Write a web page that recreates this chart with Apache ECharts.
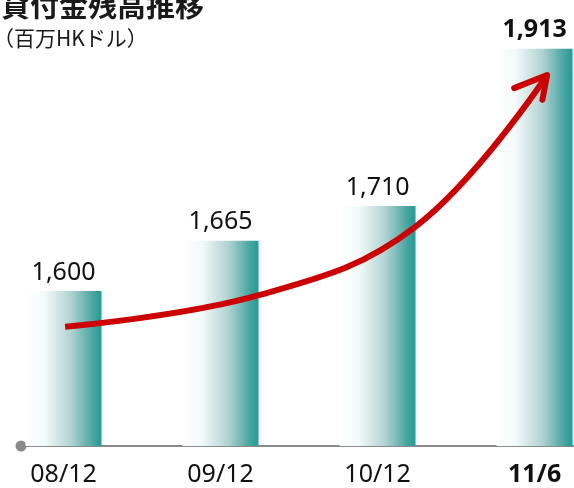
<!DOCTYPE html>
<html>
<head>
<meta charset="utf-8">
<script src="https://cdn.jsdelivr.net/npm/echarts@6/dist/echarts.min.js"></script>
<style>
  html, body { margin: 0; padding: 0; background: #fff; }
  #chart { width: 574px; height: 488px; }
</style>
</head>
<body>
<div id="chart"></div>
<script>
// loan balance, million HKD
const categories = ['08/12', '09/12', '10/12', '11/6'];
const balances = [1600, 1665, 1710, 1913];

// red trend arrow (x = category index, y = value units)
const arrowX = [0.01, 1.25, 2.24, 3.08];
const arrowY = [1554, 1595, 1683, 1879];
const headX = [2.87, 3.08, 3.05];
const headY = [1862, 1879, 1847];

const chart = echarts.init(document.getElementById('chart'));

const lastIdx = categories.length - 1;
const fontNum = '"Noto Sans", sans-serif';

const barData = balances.map((v, i) => {
    const item = { value: [i, v] };
    if (i === lastIdx) {
        item.label = { fontWeight: 'bold' };
    }
    return item;
});

const option = {
    animation: false,
    backgroundColor: '#ffffff',
    title: [
        {
            text: '貸付金残高推移',
            left: -4,
            top: -14,
            textStyle: {
                fontSize: 29,
                fontWeight: 'bold',
                color: '#1a1a1a',
                fontFamily: '"Noto Sans CJK JP", sans-serif',
            }
        },
        {
            text: '（百万HKドル）',
            left: -12,
            top: 23,
            textStyle: {
                fontSize: 21,
                fontWeight: 'normal',
                color: '#1a1a1a',
                fontFamily: '"Noto Sans CJK JP", sans-serif',
            }
        }
    ],
    grid: {
        left: 21,
        right: 0,
        top: 20,
        bottom: 42,
    },
    xAxis: {
        type: 'value',
        min: -0.271,
        max: 3.251,
        splitLine: { show: false },
        axisTick: { show: false },
        axisLine: {
            show: true,
            onZero: false,
            symbol: ['circle', 'none'],
            symbolSize: [11, 11],
            lineStyle: { color: '#8a8a8a', width: 2 }
        },
        axisLabel: {
            customValues: categories.map((c, i) => i),
            margin: 16,
            formatter: (v) => {
                const i = Math.round(v);
                return i === lastIdx ? '{b|' + categories[i] + '}' : '{n|' + categories[i] + '}';
            },
            rich: {
                n: { fontSize: 25, color: '#111', fontFamily: fontNum },
                b: { fontSize: 25, color: '#111', fontFamily: fontNum, fontWeight: 'bold' },
            }
        }
    },
    yAxis: {
        type: 'value',
        min: 1400,
        max: 1950,
        show: false,
        splitLine: { show: false },
    },
    series: [
        {
            type: 'bar',
            barWidth: 76,
            data: barData,
            itemStyle: {
                color: new echarts.graphic.LinearGradient(0, 0, 1, 0, [
                    { offset: 0, color: '#ffffff' },
                    { offset: 0.25, color: '#f4fafa' },
                    { offset: 0.6, color: '#b0d3d2' },
                    { offset: 0.87, color: '#4fa7a3' },
                    { offset: 0.97, color: '#2a9d97' },
                    { offset: 1, color: '#1fa8a0' }
                ])
            },
            label: {
                show: true,
                position: 'top',
                distance: 6,
                fontSize: 25,
                color: '#111',
                fontFamily: fontNum,
                formatter: (p) => p.value[1].toLocaleString('en-US'),
            },
            z: 2,
        },
        {
            type: 'line',
            data: arrowX.map((x, i) => [x, arrowY[i]]),
            smooth: 0.4,
            symbol: 'none',
            lineStyle: { color: '#cc0000', width: 6, cap: 'butt' },
            z: 5,
        },
        {
            type: 'line',
            data: headX.map((x, i) => [x, headY[i]]),
            symbol: 'none',
            lineStyle: { color: '#cc0000', width: 6, cap: 'round', join: 'round' },
            z: 5,
        }
    ]
};

chart.setOption(option);
</script>
</body>
</html>
